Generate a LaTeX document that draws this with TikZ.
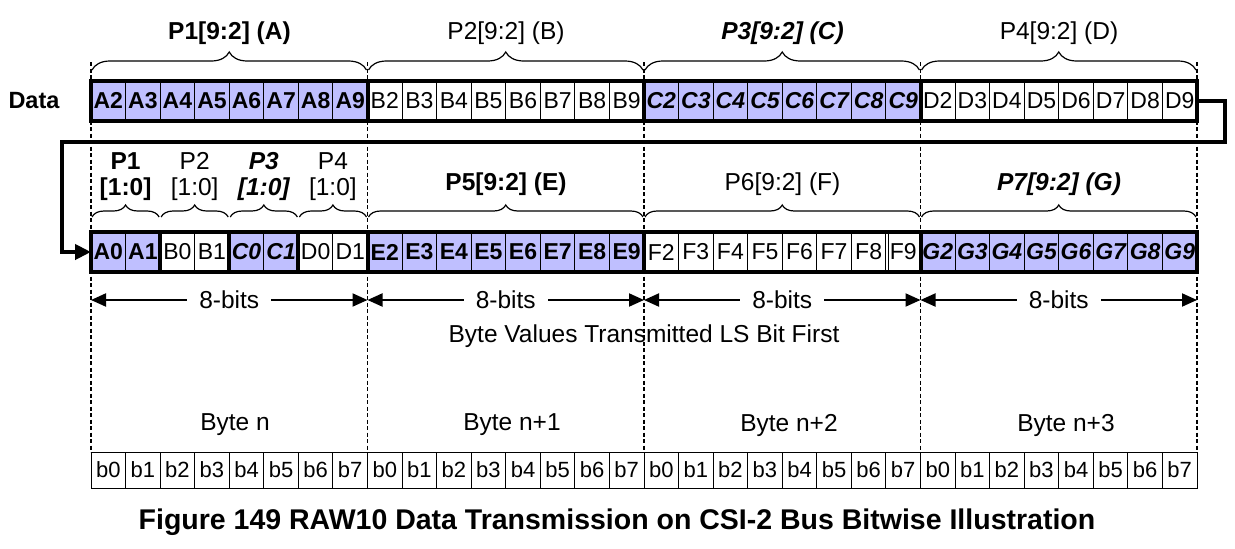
\documentclass[tikz,border=0pt]{standalone}
\usepackage{fontspec}
\setmainfont{Liberation Sans}
\usetikzlibrary{arrows.meta,decorations.pathreplacing}
\definecolor{lav}{RGB}{191,191,255}
\begin{document}
\begin{tikzpicture}[x=1pt,y=-1pt,
  cell/.style={draw,line width=1pt,minimum width=34.5625pt,minimum height=40pt,inner sep=0pt,outer sep=0pt,font=\fontsize{23}{25}\selectfont},
  ca/.style={cell,fill=lav,font=\fontsize{23}{25}\selectfont\bfseries},
  cb/.style={cell,fill=white},
  cc/.style={cell,fill=lav,font=\fontsize{23}{25}\selectfont\bfseries\itshape},
  bit/.style={draw,line width=1pt,minimum width=34.5625pt,minimum height=36pt,inner sep=0pt,outer sep=0pt,font=\fontsize{22}{24}\selectfont},
  lbl/.style={font=\fontsize{24.5}{28}\selectfont,inner sep=0pt},
  lblA/.style={lbl,font=\fontsize{24.5}{28}\selectfont\bfseries},
  lblC/.style={lbl,font=\fontsize{24.5}{28}\selectfont\bfseries\itshape},
  thickline/.style={line width=4pt},
  brc/.style={decorate,decoration={brace,amplitude=#1},line width=1.2pt},
  guide/.style={line width=1.2pt,dash pattern=on 4pt off 2.5pt},
  span/.style={line width=2pt,{Triangle[length=15pt,width=13pt]}-{Triangle[length=15pt,width=13pt]}},
  conn/.style={line width=4pt,-{Triangle[length=16pt,width=15pt]}}
]
\useasboundingbox (0,0) rectangle (1235,549);
% dashed guides
\foreach \g in {0,...,4} \draw[guide] ({91+276.5*\g},62) -- ({91+276.5*\g},452);
% Data label
\node[font=\fontsize{23.5}{26}\selectfont\bfseries] (data) at (34,100.5) {Data};
% row 1
\foreach \g/\L/\s in {0/A/ca,1/B/cb,2/C/cc,3/D/cb} {
  \foreach \i in {0,...,7} {
    \pgfmathtruncatemacro\k{\g*8+\i}
    \pgfmathtruncatemacro\n{\i+2}
    \node[\s] (ra\k) at ({91+34.5625*(\k+0.5)},100.5) {\L\n};
  }
}
% row 2
\foreach \t/\s [count=\k from 0] in {A0/ca,A1/ca,B0/cb,B1/cb,C0/cc,C1/cc,D0/cb,D1/cb}
  \node[\s] (rb\k) at ({91+34.5625*(\k+0.5)},252) {\t};
\foreach \g/\L/\s in {1/E/ca,2/F/cb,3/G/cc} {
  \foreach \i in {0,...,7} {
    \pgfmathtruncatemacro\k{\g*8+\i}
    \pgfmathtruncatemacro\n{\i+2}
    \node[\s] (rb\k) at ({91+34.5625*(\k+0.5)},252) {\L\n};
  }
}
\draw[line width=1pt] ([xshift=3pt]rb22.north east) -- ([xshift=3pt]rb22.south east);
% thick outlines
\draw[thickline] (ra0.north west) rectangle (ra31.south east);
\foreach \k in {7,15,23} \draw[thickline] (ra\k.north east) -- (ra\k.south east);
\draw[thickline] (rb0.north west) rectangle (rb31.south east);
\foreach \k in {1,3,5,7,15,23} \draw[thickline] (rb\k.north east) -- (rb\k.south east);
% connector
\draw[conn] (ra31.east) -- (1225,100.5) -- (1225,142) -- (62,142) -- (62,252) -- (rb0.west);
% braces row 1
\foreach \g in {0,...,3} \draw[brc=18pt] ({91+276.5*\g+1},70) -- ({91+276.5*(\g+1)-1},70);
\node[lblA] (p1) at (229.5,33) {P1[9:2] (A)};
\node[lbl]  (p2) at (506,33) {P2[9:2] (B)};
\node[lblC] (p3) at (782.5,33) {P3[9:2] (C)};
\node[lbl]  (p4) at (1059,33) {P4[9:2] (D)};
% braces row 2
\foreach \g in {0,...,3} \draw[brc=12pt] ({91+69.125*\g+1},217) -- ({91+69.125*(\g+1)-1},217);
\foreach \g in {1,...,3} \draw[brc=12pt] ({91+276.5*\g+1},217) -- ({91+276.5*(\g+1)-1},217);
\node[lblA] (q1a) at (125.6,161) {P1};
\node[lblA] (q1b) at (125.6,189) {[1:0]};
\node[lbl]  (q2a) at (194.7,161) {P2};
\node[lbl]  (q2b) at (194.7,189) {[1:0]};
\node[lblC] (q3a) at (263.8,161) {P3};
\node[lblC] (q3b) at (263.8,189) {[1:0]};
\node[lbl]  (q4a) at (332.9,161) {P4};
\node[lbl]  (q4b) at (332.9,189) {[1:0]};
\node[lblA] (p5) at (506,184) {P5[9:2] (E)};
\node[lbl]  (p6) at (782.5,184) {P6[9:2] (F)};
\node[lblC] (p7) at (1059,184) {P7[9:2] (G)};
% 8-bits spans
\foreach \g in {0,...,4} \coordinate (s\g) at ({91+276.5*\g},300);
\foreach \g [evaluate=\g as \h using int(\g+1)] in {0,...,3}
  \draw[span] (s\g) -- node[lbl,fill=white,inner xsep=12pt,inner ysep=2pt] {8-bits} (s\h);
\node[lbl] (bv) at (644,336) {Byte Values Transmitted LS Bit First};
\node[lbl] (by0) at (235,425) {Byte n};
\node[lbl] (by1) at (512,425) {Byte n+1};
\node[lbl] (by2) at (789,425) {Byte n+2};
\node[lbl] (by3) at (1066,425) {Byte n+3};
% bits row
\foreach \g in {0,...,3} {
  \foreach \i in {0,...,7} {
    \pgfmathtruncatemacro\k{\g*8+\i}
    \node[bit] (bt\k) at ({91+34.5625*(\k+0.5)},470) {b\i};
  }
}
\node[font=\fontsize{28.5}{32}\selectfont\bfseries] (cap) at (617,522) {Figure 149 RAW10 Data Transmission on CSI-2 Bus Bitwise Illustration};
\end{tikzpicture}
\end{document}
